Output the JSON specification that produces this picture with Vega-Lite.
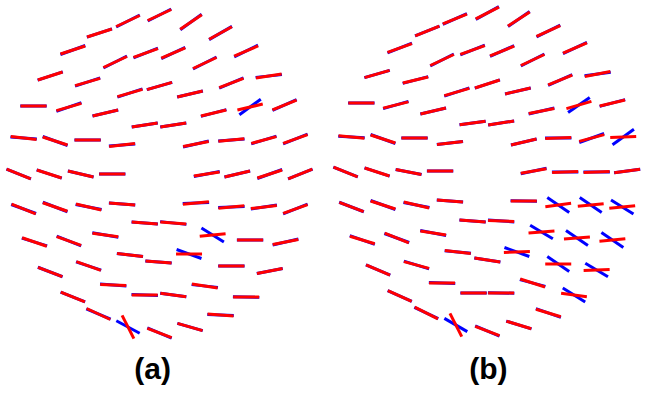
{
 "$schema": "https://vega.github.io/schema/vega-lite/v6.json",
 "width": 647, "height": 393, "padding": 0,
 "autosize": {"type": "fit", "contains": "padding"},
 "background": "white",
 "config": {"view": {"stroke": null}},
 "datasets": {
  "seg": [
   {"x":130,"y":21,"r":-25,"b":-27},{"x":162,"y":15,"r":-25,"b":-27},{"x":101,"y":33,"r":-18,"b":-18},{"x":74,"y":50,"r":-18,"b":-20},
   {"x":117,"y":62,"r":-25,"b":-27},{"x":148,"y":53,"r":-20,"b":-22},{"x":51,"y":76,"r":-18,"b":-18},{"x":89,"y":82,"r":-16,"b":-18},
   {"x":132,"y":93,"r":-16,"b":-18},{"x":162,"y":86,"r":-16,"b":-16},{"x":34,"y":106,"r":0,"b":0},{"x":70,"y":107,"r":-16,"b":-19},
   {"x":107,"y":113,"r":-13,"b":-13},{"x":147,"y":125,"r":-9,"b":-9},{"x":176,"y":125,"r":-9,"b":-9},{"x":24,"y":138,"r":7,"b":4},
   {"x":56,"y":141,"r":18,"b":20},{"x":89,"y":140,"r":0,"b":0},{"x":124,"y":145,"r":-7,"b":-4},{"x":19,"y":174,"r":22,"b":22},
   {"x":50,"y":174,"r":18,"b":18},{"x":82,"y":174,"r":13,"b":13},{"x":114,"y":174,"r":0,"b":0},{"x":194,"y":22,"r":-34,"b":-36},
   {"x":224,"y":33,"r":-29,"b":-30},{"x":176,"y":53,"r":-23,"b":-25},{"x":250,"y":51,"r":-23,"b":-26},{"x":208,"y":63,"r":-25,"b":-27},
   {"x":235,"y":83,"r":-21,"b":-23},{"x":273,"y":76,"r":-9,"b":-6},{"x":193,"y":94,"r":-13,"b":-13},{"x":217,"y":113,"r":-13,"b":-15},
   {"x":254,"y":107,"r":-13,"b":-36},{"x":289,"y":105,"r":-22,"b":-24},{"x":199,"y":144,"r":-11,"b":-13},{"x":235,"y":140,"r":-6,"b":-4},
   {"x":268,"y":140,"r":-15,"b":-17},{"x":300,"y":139,"r":-20,"b":-22},{"x":210,"y":174,"r":-9,"b":-11},{"x":241,"y":174,"r":-13,"b":-13},
   {"x":274,"y":174,"r":-18,"b":-20},{"x":305,"y":174,"r":-22,"b":-22},{"x":199,"y":203,"r":-5,"b":-2},{"x":235,"y":207,"r":-5,"b":-2},
   {"x":268,"y":207,"r":-7,"b":-9},{"x":300,"y":209,"r":-20,"b":-22},{"x":147,"y":223,"r":4,"b":4},{"x":176,"y":223,"r":4,"b":6},
   {"x":216,"y":235,"r":-6,"b":32},{"x":254,"y":240,"r":0,"b":0},{"x":290,"y":242,"r":-11,"b":-13},{"x":161,"y":262,"r":4,"b":4},
   {"x":192,"y":254,"r":0,"b":20},{"x":235,"y":266,"r":0,"b":0},{"x":274,"y":271,"r":-11,"b":-11},{"x":208,"y":286,"r":9,"b":6},
   {"x":147,"y":295,"r":0,"b":2},{"x":176,"y":295,"r":8,"b":8},{"x":250,"y":297,"r":0,"b":1},{"x":224,"y":315,"r":4,"b":2},
   {"x":193,"y":327,"r":16,"b":16},{"x":162,"y":333,"r":21,"b":23},{"x":24,"y":209,"r":22,"b":20},{"x":56,"y":207,"r":19,"b":21},
   {"x":90,"y":207,"r":13,"b":11},{"x":124,"y":204,"r":4,"b":4},{"x":35,"y":242,"r":19,"b":17},{"x":70,"y":241,"r":20,"b":22},
   {"x":107,"y":235,"r":8,"b":10},{"x":132,"y":255,"r":7,"b":7},{"x":51,"y":272,"r":21,"b":21},{"x":90,"y":266,"r":20,"b":18},
   {"x":115,"y":285,"r":2,"b":4},{"x":74,"y":297,"r":22,"b":22},{"x":100,"y":314,"r":25,"b":23},{"x":130,"y":327,"r":63,"b":28},

   {"x":462,"y":19,"r":-22,"b":-24},{"x":495,"y":13,"r":-27,"b":-29},{"x":434,"y":31,"r":-22,"b":-22},{"x":406,"y":48,"r":-20,"b":-22},
   {"x":449,"y":60,"r":-25,"b":-27},{"x":480,"y":50,"r":-20,"b":-22},{"x":383,"y":74,"r":-16,"b":-16},{"x":422,"y":80,"r":-13,"b":-15},
   {"x":464,"y":92,"r":-16,"b":-18},{"x":495,"y":84,"r":-18,"b":-18},{"x":367,"y":103,"r":0,"b":0},{"x":402,"y":105,"r":-14,"b":-16},
   {"x":440,"y":111,"r":-13,"b":-13},{"x":480,"y":123,"r":-8,"b":-8},{"x":509,"y":123,"r":-9,"b":-9},{"x":357,"y":137,"r":6,"b":3},
   {"x":389,"y":139,"r":18,"b":20},{"x":421,"y":138,"r":0,"b":0},{"x":457,"y":143,"r":-7,"b":-7},{"x":351,"y":172,"r":22,"b":22},
   {"x":383,"y":172,"r":18,"b":18},{"x":415,"y":172,"r":11,"b":11},{"x":447,"y":171,"r":0,"b":0},{"x":527,"y":19,"r":-33,"b":-35},
   {"x":557,"y":31,"r":-24,"b":-26},{"x":510,"y":51,"r":-22,"b":-24},{"x":584,"y":48,"r":-23,"b":-25},{"x":541,"y":60,"r":-25,"b":-27},
   {"x":569,"y":80,"r":-22,"b":-24},{"x":607,"y":74,"r":-11,"b":-8},{"x":526,"y":91,"r":-13,"b":-13},{"x":550,"y":111,"r":-11,"b":-13},
   {"x":588,"y":105,"r":-16,"b":-35},{"x":622,"y":103,"r":-13,"b":-15},{"x":532,"y":142,"r":-13,"b":-13},{"x":567,"y":138,"r":-2,"b":0},
   {"x":601,"y":138,"r":-15,"b":-20},{"x":633,"y":137,"r":-2,"b":-36},{"x":542,"y":171,"r":-10,"b":-12},{"x":574,"y":172,"r":-2,"b":0},
   {"x":606,"y":172,"r":-2,"b":0},{"x":637,"y":171,"r":-8,"b":-8},{"x":357,"y":207,"r":21,"b":21},{"x":389,"y":205,"r":18,"b":20},
   {"x":423,"y":205,"r":13,"b":11},{"x":457,"y":201,"r":4,"b":4},{"x":480,"y":221,"r":4,"b":4},{"x":509,"y":221,"r":2,"b":4},
   {"x":368,"y":240,"r":17,"b":19},{"x":403,"y":238,"r":22,"b":20},{"x":440,"y":233,"r":9,"b":11},{"x":465,"y":252,"r":7,"b":5},
   {"x":495,"y":260,"r":9,"b":9},{"x":384,"y":270,"r":23,"b":23},{"x":423,"y":265,"r":15,"b":17},{"x":449,"y":283,"r":0,"b":2},
   {"x":481,"y":293,"r":0,"b":0},{"x":509,"y":293,"r":0,"b":1},{"x":406,"y":296,"r":24,"b":24},{"x":433,"y":313,"r":27,"b":25},
   {"x":463,"y":325,"r":63,"b":30},{"x":495,"y":331,"r":21,"b":23},{"x":532,"y":201,"r":0,"b":1},{"x":567,"y":205,"r":-8,"b":34},
   {"x":600,"y":205,"r":-6,"b":34},{"x":632,"y":207,"r":-6,"b":32},{"x":550,"y":232,"r":-4,"b":31},{"x":586,"y":238,"r":-4,"b":34},
   {"x":622,"y":240,"r":-5,"b":34},{"x":525,"y":252,"r":-2,"b":20},{"x":567,"y":264,"r":0,"b":34},{"x":606,"y":270,"r":-2,"b":31},
   {"x":541,"y":283,"r":18,"b":15},{"x":583,"y":295,"r":8,"b":32},{"x":557,"y":313,"r":17,"b":19},{"x":527,"y":325,"r":17,"b":17}
  ],
  "lab": [
   {"t":"(a)","x":155,"y":379},
   {"t":"(b)","x":496,"y":379}
  ]
 },
 "layer": [
  {
   "data": {"name": "seg"},
   "mark": {"type": "point", "shape": "M-1,0L1,0", "filled": false, "stroke": "#0000ff", "strokeWidth": 3, "size": 700, "opacity": 1},
   "encoding": {
    "x": {"field": "x", "type": "quantitative", "scale": {"domain": [0, 647], "nice": false, "zero": false}, "axis": null},
    "y": {"field": "y", "type": "quantitative", "scale": {"domain": [0, 393], "nice": false, "zero": false, "reverse": true}, "axis": null},
    "angle": {"field": "b", "type": "quantitative", "scale": null}
   }
  },
  {
   "data": {"name": "seg"},
   "mark": {"type": "point", "shape": "M-1,0L1,0", "filled": false, "stroke": "#ff0000", "strokeWidth": 3, "size": 676, "opacity": 1},
   "encoding": {
    "x": {"field": "x", "type": "quantitative"},
    "y": {"field": "y", "type": "quantitative"},
    "angle": {"field": "r", "type": "quantitative", "scale": null}
   }
  },
  {
   "data": {"name": "lab"},
   "mark": {"type": "text", "font": "Liberation Sans", "fontWeight": "bold", "fontSize": 30, "baseline": "alphabetic", "align": "center", "color": "black"},
   "encoding": {
    "x": {"field": "x", "type": "quantitative"},
    "y": {"field": "y", "type": "quantitative"},
    "text": {"field": "t"}
   }
  }
 ]
}
